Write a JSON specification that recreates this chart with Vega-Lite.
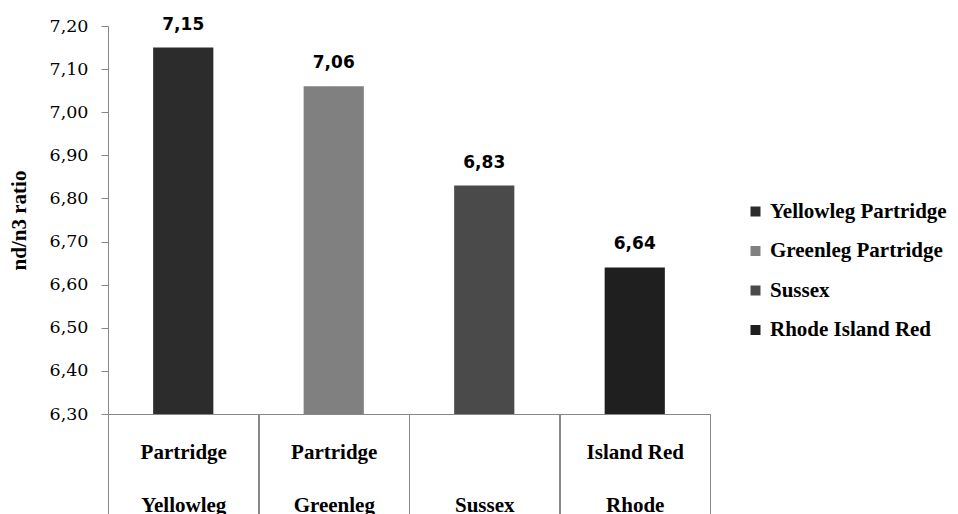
{
  "$schema": "https://vega.github.io/schema/vega-lite/v6.json",
  "width": 602,
  "height": 388,
  "autosize": {"type": "none"},
  "padding": {"left": 108, "top": 26, "right": 248, "bottom": 100},
  "background": "white",
  "config": {
    "view": {"stroke": null},
    "locale": {
      "number": {"decimal": ",", "thousands": ".", "grouping": [3], "currency": ["", " €"]}
    }
  },
  "data": {
    "values": [
      {"breed": "Yellowleg Partridge", "ratio": 7.15},
      {"breed": "Greenleg Partridge", "ratio": 7.06},
      {"breed": "Sussex", "ratio": 6.83},
      {"breed": "Rhode Island Red", "ratio": 6.64}
    ]
  },
  "encoding": {
    "x": {
      "field": "breed",
      "type": "nominal",
      "sort": null,
      "scale": {"paddingInner": 0.6, "paddingOuter": 0.3}
    },
    "y": {
      "field": "ratio",
      "type": "quantitative",
      "scale": {"domain": [6.3, 7.2], "zero": false, "nice": false},
      "axis": {
        "title": "nd/n3 ratio",
        "titleFont": "Liberation Serif",
        "titleFontWeight": "bold",
        "titleFontSize": 21,
        "titleColor": "#000000",
        "titleAngle": -90,
        "titleX": -89,
        "titleY": 194,
        "titleAlign": "center",
        "titleBaseline": "middle",
        "values": [6.3, 6.4, 6.5, 6.6, 6.7, 6.8, 6.9, 7.0, 7.1, 7.2],
        "format": ".2f",
        "labelFont": "DejaVu Serif",
        "labelFontSize": 17.5,
        "labelColor": "#000000",
        "labelPadding": 13,
        "tickSize": 7,
        "tickColor": "#888888",
        "domainColor": "#888888",
        "grid": false
      }
    }
  },
  "layer": [
    {
      "mark": {"type": "bar"},
      "encoding": {
        "x": {
          "field": "breed",
          "type": "nominal",
          "sort": null,
          "axis": {
            "title": null,
            "orient": "bottom",
            "labelAngle": 0,
            "domainColor": "#888888",
            "tickColor": "#888888",
            "tickOffset": 75,
            "labelOffset": -75,
            "tickSize": 100,
            "labelPadding": -56,
            "labelBaseline": "alphabetic",
            "labelFont": "Liberation Serif",
            "labelFontWeight": "bold",
            "labelFontSize": 21,
            "labelColor": "#000000",
            "labelLineHeight": 53,
            "labelExpr": "indexof(datum.value, ' ') < 0 ? ['', datum.value] : [substring(datum.value, indexof(datum.value, ' ') + 1), substring(datum.value, 0, indexof(datum.value, ' '))]"
          }
        },
        "y2": {"datum": 6.3},
        "color": {
          "field": "breed",
          "type": "nominal",
          "sort": null,
          "scale": {
            "domain": ["Yellowleg Partridge", "Greenleg Partridge", "Sussex", "Rhode Island Red"],
            "range": ["#2c2c2c", "#808080", "#4a4a4a", "#1f1f1f"]
          },
          "legend": {
            "title": null,
            "orient": "none",
            "legendX": 637,
            "legendY": 175,
            "symbolType": "square",
            "symbolSize": 100,
            "symbolStrokeWidth": 0,
            "labelFont": "Liberation Serif",
            "labelFontWeight": "bold",
            "labelFontSize": 21,
            "labelColor": "#000000",
            "labelOffset": 4,
            "labelLimit": 400,
            "rowPadding": 17.5
          }
        }
      }
    },
    {
      "mark": {
        "type": "text",
        "font": "DejaVu Sans",
        "fontWeight": "bold",
        "fontSize": 17,
        "color": "#000000",
        "baseline": "alphabetic",
        "dy": -18
      },
      "encoding": {
        "x": {
          "field": "breed",
          "type": "nominal",
          "sort": null,
          "axis": {
            "title": null,
            "orient": "bottom",
            "domain": false,
            "labels": false,
            "tickColor": "#888888",
            "tickOffset": -75,
            "tickSize": 100
          }
        },
        "text": {"field": "ratio", "type": "quantitative", "format": ".2f"}
      }
    }
  ],
  "resolve": {"axis": {"x": "independent"}}
}
